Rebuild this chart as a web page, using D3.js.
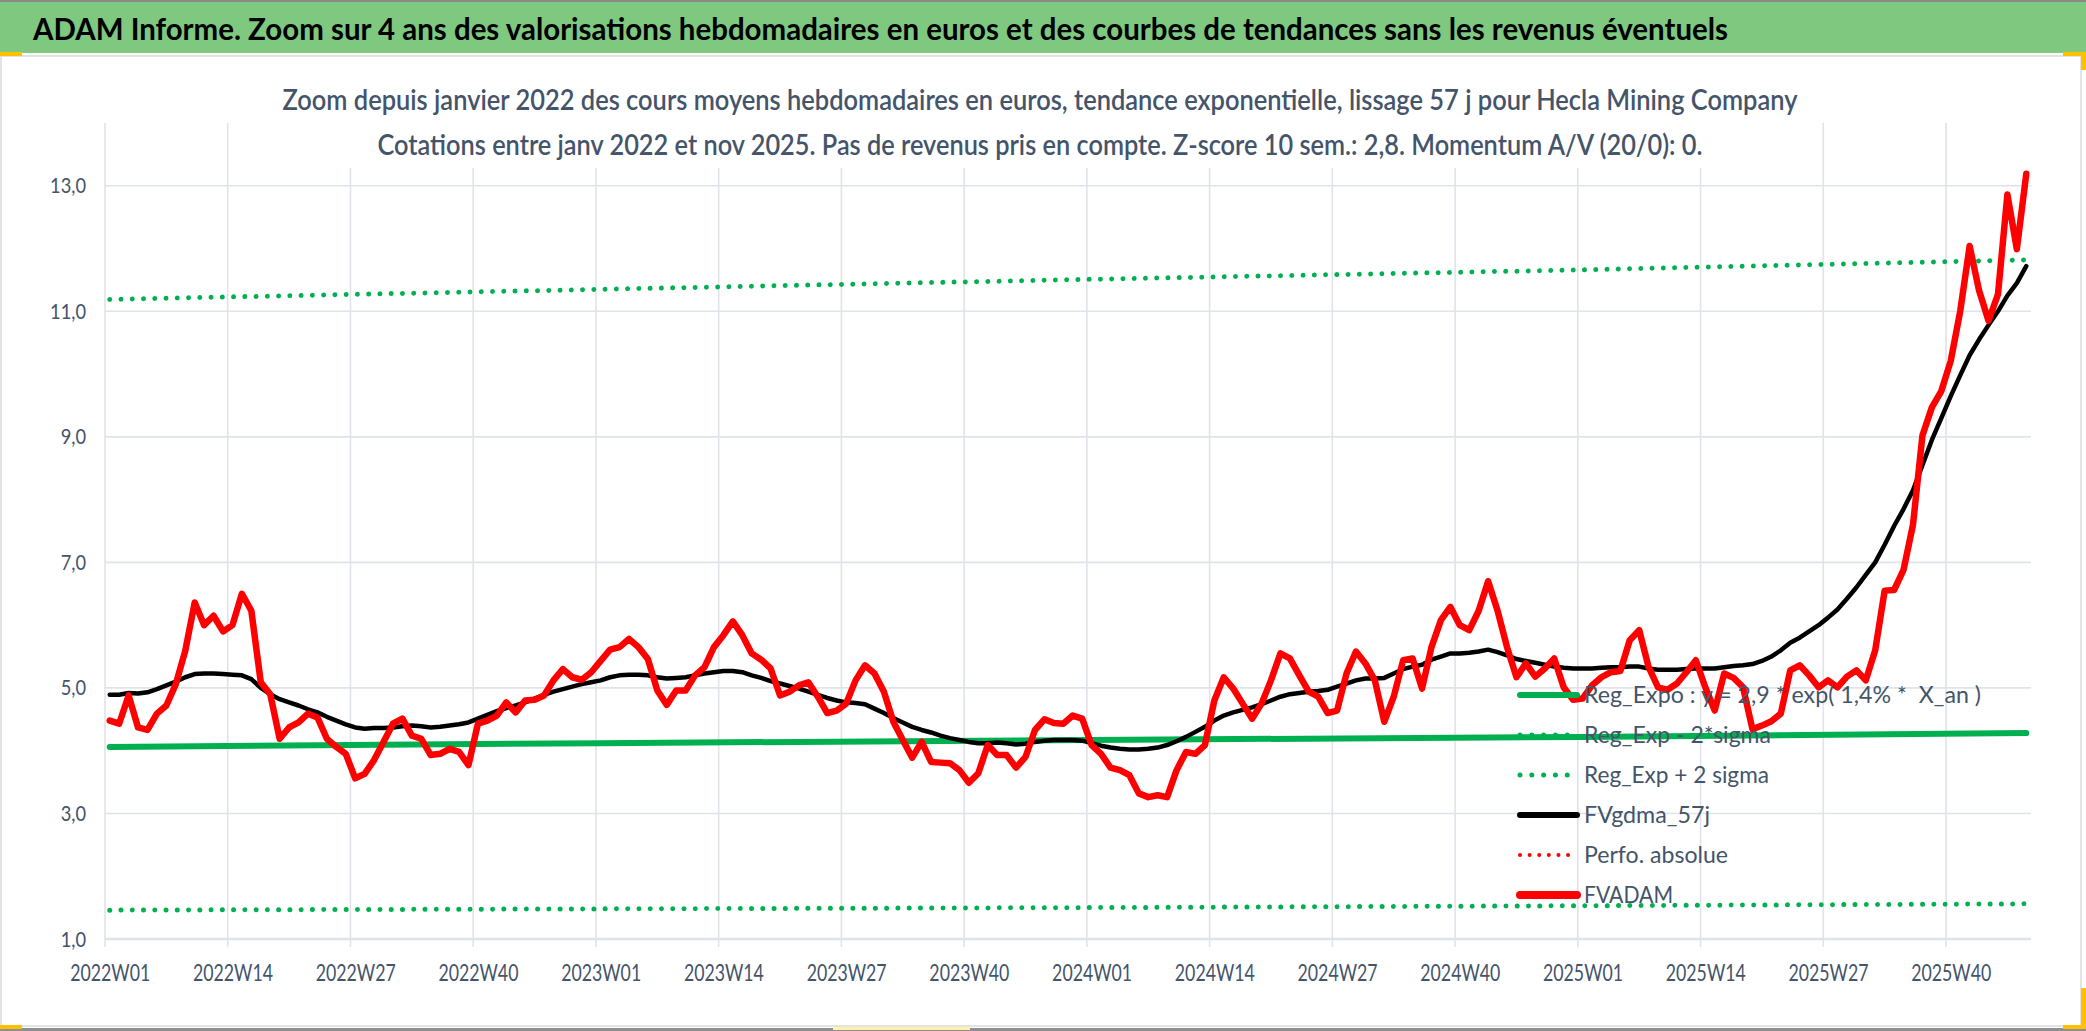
<!DOCTYPE html>
<html>
<head>
<meta charset="utf-8">
<script src="https://cdn.jsdelivr.net/npm/d3@7"></script>
<style>
  body { margin: 0; background: #fff; }
  text { font-family: Lato, "Open Sans", sans-serif; }
</style>
</head>
<body>
<svg id="chart" width="2086" height="1031"></svg>
<script>
// Hecla Mining Company - ADAM zoom 2022-2025, weekly values in euros

// week categories (52 weeks per year on this chart)
const years = [2022, 2023, 2024, 2025];

// FVADAM : weekly average price (red)
const fvadam = [
  4.48, 4.43, 4.88, 4.37, 4.33, 4.59, 4.72, 5.06, 5.59, 6.36,
  6.0, 6.15, 5.9, 6.0, 6.5, 6.23, 5.09, 4.9, 4.19, 4.37,
  4.45, 4.59, 4.53, 4.19, 4.06, 3.95, 3.56, 3.63, 3.85, 4.14,
  4.43, 4.51, 4.24, 4.19, 3.93, 3.95, 4.03, 3.98, 3.77, 4.43,
  4.48, 4.56, 4.77, 4.61, 4.8, 4.81, 4.88, 5.12, 5.3, 5.17,
  5.13, 5.25, 5.43, 5.61, 5.65, 5.78, 5.65, 5.46, 4.96, 4.73,
  4.96, 4.96, 5.2, 5.33, 5.65, 5.84, 6.06, 5.84, 5.55, 5.45,
  5.31, 4.88, 4.94, 5.04, 5.09, 4.86, 4.6, 4.64, 4.75, 5.12,
  5.36, 5.23, 4.94, 4.46, 4.17, 3.89, 4.14, 3.82, 3.81, 3.8,
  3.69, 3.49, 3.64, 4.09, 3.93, 3.93, 3.73, 3.9, 4.33, 4.5,
  4.44, 4.43, 4.56, 4.51, 4.09, 3.95, 3.73, 3.69, 3.61, 3.32,
  3.26, 3.29, 3.26, 3.69, 3.98, 3.95, 4.09, 4.8, 5.17, 4.99,
  4.75, 4.51, 4.75, 5.12, 5.55, 5.47, 5.2, 4.94, 4.86, 4.6,
  4.64, 5.23, 5.58, 5.39, 5.12, 4.46, 4.86, 5.44, 5.47, 4.99,
  5.65, 6.08, 6.29, 6.0, 5.92, 6.23, 6.7, 6.23, 5.65, 5.17,
  5.39, 5.18, 5.31, 5.47, 5.01, 4.81, 4.83, 5.04, 5.17, 5.25,
  5.27, 5.76, 5.92, 5.33, 5.01, 4.97, 5.07, 5.25, 5.44, 5.01,
  4.64, 5.23, 5.16, 5.01, 4.34, 4.4, 4.47, 4.59, 5.28, 5.36,
  5.2, 5.01, 5.12, 5.01, 5.18, 5.28, 5.12, 5.6, 6.55, 6.56,
  6.88, 7.6, 9.02, 9.47, 9.73, 10.21, 11.0, 12.04, 11.33, 10.85,
  11.27, 12.86, 11.99, 13.19
];

// FVgdma_57j : 57 day smoothing (black)
const fvgdma57 = [
  4.89, 4.89, 4.92, 4.91, 4.93, 4.98, 5.04, 5.1, 5.17, 5.22,
  5.23, 5.23, 5.22, 5.21, 5.2, 5.14, 5.0, 4.9, 4.82, 4.77,
  4.72, 4.66, 4.61, 4.54, 4.48, 4.42, 4.37, 4.35, 4.36, 4.36,
  4.37, 4.39, 4.4, 4.39, 4.37, 4.38, 4.4, 4.42, 4.45, 4.51,
  4.57, 4.63, 4.68, 4.72, 4.77, 4.83, 4.89, 4.94, 4.98, 5.02,
  5.06, 5.09, 5.12, 5.17, 5.2, 5.21, 5.21, 5.2, 5.17, 5.15,
  5.16, 5.17, 5.2, 5.23, 5.25, 5.27, 5.27, 5.25, 5.2, 5.16,
  5.11, 5.07, 5.03, 4.99, 4.94, 4.89, 4.84, 4.8, 4.77, 4.76,
  4.74, 4.67, 4.6, 4.52, 4.45, 4.38, 4.33, 4.29, 4.24, 4.2,
  4.17, 4.14, 4.12, 4.12, 4.13, 4.12, 4.1, 4.11, 4.14, 4.16,
  4.17, 4.17, 4.17, 4.16, 4.12, 4.08, 4.05, 4.03, 4.02, 4.02,
  4.03, 4.05, 4.09, 4.15, 4.22, 4.3, 4.38, 4.48, 4.56, 4.61,
  4.65, 4.69, 4.74, 4.8, 4.86, 4.9, 4.92, 4.94, 4.95, 4.97,
  5.02, 5.07, 5.12, 5.15, 5.15, 5.16, 5.23, 5.3, 5.34, 5.37,
  5.45, 5.5, 5.55, 5.55, 5.56, 5.58, 5.61, 5.57, 5.52, 5.46,
  5.43, 5.4, 5.37, 5.34, 5.32, 5.31, 5.31, 5.31, 5.32, 5.33,
  5.33, 5.34, 5.34, 5.31, 5.29, 5.29, 5.29, 5.3, 5.31, 5.31,
  5.31, 5.33, 5.35, 5.36, 5.38, 5.43, 5.5, 5.6, 5.72, 5.8,
  5.9, 6.0, 6.12, 6.25, 6.42, 6.6, 6.8, 7.0, 7.28, 7.58,
  7.85, 8.15, 8.55, 8.95, 9.3, 9.65, 9.98, 10.3, 10.55, 10.78,
  11.0, 11.25, 11.45, 11.72
];

// exponential trend and +/- 2 sigma bands, read at a few weeks
const trendIdx = [0, 52, 104, 156, 203];
const regExpo = [4.06, 4.12, 4.17, 4.22, 4.28];
const regExpPlus = [11.19, 11.35, 11.51, 11.66, 11.82];
const regExpMinus = [1.46, 1.48, 1.50, 1.53, 1.56];

// axis ticks
const yTicks = [1, 3, 5, 7, 9, 11, 13];
const labelStep = 13;

// texts
const mainTitle = "ADAM Informe. Zoom sur 4 ans des valorisations hebdomadaires en euros et des courbes de tendances sans les revenus éventuels";
const subTitle1 = "Zoom depuis janvier 2022 des cours moyens hebdomadaires en euros, tendance exponentielle, lissage 57 j pour Hecla Mining Company";
const subTitle2 = "Cotations entre janv 2022 et nov 2025. Pas de revenus pris en compte. Z-score 10 sem.: 2,8. Momentum A/V (20/0): 0.";
const legendLabels = [
  "Reg_Expo : y = 2,9 * exp( 1,4% *  X_an )",
  "Reg_Exp - 2*sigma",
  "Reg_Exp + 2 sigma",
  "FVgdma_57j",
  "Perfo. absolue",
  "FVADAM"
];

// ---------------------------------------------------------------
const categories = years.flatMap(yr => d3.range(1, 53).map(w => `${yr}W${String(w).padStart(2, "0")}`))
  .slice(0, fvadam.length);

const W = 2086, H = 1031;
const plot = { left: 105, right: 2031, top: 123, bottom: 939 };
const textColor = "#44546a";
const gridColor = "#dfe3ea";
const green = "#00b050";

const svg = d3.select("#chart");

const x = d3.scaleLinear().domain([-0.5, fvadam.length - 0.5]).range([plot.left, plot.right]);
const y = d3.scaleLinear().domain([1, 14]).range([plot.bottom, plot.top]);

// squeeze a text to the width it has in the excel picture
function fit(sel, width) {
  sel.attr("textLength", width).attr("lengthAdjust", "spacingAndGlyphs");
}

// frame: green banner, chart area, small selection handles
function drawFrame() {
  svg.append("rect").attr("width", W).attr("height", H).attr("fill", "#fff");
  svg.append("rect")
    .attr("x", 1).attr("y", 56).attr("width", 2080).attr("height", 970)
    .attr("fill", "#fff").attr("stroke", "#dadada").attr("stroke-width", 1.5);
  svg.append("rect").attr("x", 0).attr("y", 0).attr("width", W).attr("height", 53).attr("fill", "#7fc87f");
  svg.append("rect").attr("x", 0).attr("y", 0).attr("width", W).attr("height", 2).attr("fill", "#8a8a8a");
  svg.append("rect").attr("x", 0).attr("y", 1028).attr("width", W).attr("height", 3).attr("fill", "#8f8f8f");

  const handles = [
    [0, 52, 22, 4], [2063, 52, 23, 4], [2081, 52, 5, 18],
    [2081, 988, 5, 40], [2063, 1025, 23, 4], [0, 1025, 22, 4]
  ];
  svg.append("g").selectAll("rect").data(handles).join("rect")
    .attr("x", d => d[0]).attr("y", d => d[1])
    .attr("width", d => d[2]).attr("height", d => d[3])
    .attr("fill", "#ffc000");
  svg.append("rect").attr("x", 833).attr("y", 1027).attr("width", 137).attr("height", 3).attr("fill", "#fff2a8");
}

// gridlines
function drawGrid() {
  const g = svg.append("g");
  g.selectAll(".hgrid").data(yTicks).join("line")
    .attr("x1", plot.left).attr("x2", plot.right)
    .attr("y1", d => y(d)).attr("y2", d => y(d))
    .attr("stroke", gridColor)
    .attr("stroke-width", d => d === 1 ? 2.6 : 1.6);

  const vIdx = d3.range(0, fvadam.length, labelStep).map(i => i - 0.5);
  g.selectAll(".vgrid").data(vIdx).join("line")
    .attr("x1", d => x(d)).attr("x2", d => x(d))
    .attr("y1", plot.top).attr("y2", plot.bottom + 8)
    .attr("stroke", gridColor).attr("stroke-width", 1.6);

  // the chart title box hides the top of the gridlines
  svg.append("rect").attr("x", 280).attr("y", 118).attr("width", 1522).attr("height", 50).attr("fill", "#fff");
}

// axes labels
function drawAxes() {
  const xAxis = d3.axisBottom(x)
    .tickValues(d3.range(0, fvadam.length, labelStep))
    .tickFormat(i => categories[i])
    .tickSize(0).tickPadding(26);
  const gx = svg.append("g").attr("transform", `translate(0,${plot.bottom})`).call(xAxis);
  gx.select(".domain").remove();
  gx.selectAll("text")
    .attr("fill", textColor).attr("font-size", 23).attr("font-family", "Lato, 'Open Sans', sans-serif")
    .call(fit, 80);

  const yAxis = d3.axisLeft(y)
    .tickValues(yTicks)
    .tickFormat(d => d3.format(".1f")(d).replace(".", ","))
    .tickSize(0).tickPadding(19);
  const gy = svg.append("g").attr("transform", `translate(${plot.left},0)`).call(yAxis);
  gy.select(".domain").remove();
  gy.selectAll("text")
    .attr("fill", textColor).attr("font-size", 22).attr("font-family", "Lato, 'Open Sans', sans-serif")
    .each(function () {
      const w = this.getComputedTextLength();
      d3.select(this).call(fit, w * 0.83);
    });
}

// series
function drawSeries() {
  const trendLine = vals => d3.line()
    .x((d, k) => x(trendIdx[k]))
    .y(d => y(d))(vals);

  svg.append("path").attr("d", trendLine(regExpo))
    .attr("fill", "none").attr("stroke", green).attr("stroke-width", 6)
    .attr("stroke-linecap", "round");

  [regExpMinus, regExpPlus].forEach(vals => {
    svg.append("path").attr("d", trendLine(vals))
      .attr("fill", "none").attr("stroke", green).attr("stroke-width", 5)
      .attr("stroke-linecap", "round").attr("stroke-dasharray", "0.01 11.25");
  });

  const weekly = d3.line().x((d, i) => x(i)).y(d => y(d));

  svg.append("path").attr("d", weekly(fvgdma57))
    .attr("fill", "none").attr("stroke", "#000").attr("stroke-width", 4.5)
    .attr("stroke-linejoin", "round").attr("stroke-linecap", "round");

  svg.append("path").attr("d", weekly(fvadam))
    .attr("fill", "none").attr("stroke", "#ff0000").attr("stroke-width", 6.5)
    .attr("stroke-linejoin", "round").attr("stroke-linecap", "round");
}

// legend, drawn over the plot without background
function drawLegend() {
  const symbols = [
    { color: green, width: 6, dash: null },
    { color: green, width: 5, dash: "0.01 11.8" },
    { color: green, width: 5, dash: "0.01 11.8" },
    { color: "#000", width: 6, dash: null },
    { color: "#ff0000", width: 4, dash: "0.01 9.6" },
    { color: "#ff0000", width: 8, dash: null }
  ];
  const textWidth = [397, 187, 185, 126, 144, 89];
  const rowY = k => 695 + k * 40;

  const g = svg.append("g");
  legendLabels.forEach((label, k) => {
    const s = symbols[k];
    g.append("line")
      .attr("x1", 1520).attr("x2", 1577)
      .attr("y1", rowY(k)).attr("y2", rowY(k))
      .attr("stroke", s.color).attr("stroke-width", s.width)
      .attr("stroke-linecap", "round")
      .attr("stroke-dasharray", s.dash);
    g.append("text")
      .attr("x", 1584).attr("y", rowY(k)).attr("dy", "0.35em")
      .attr("font-size", 23).attr("fill", textColor)
      .style("white-space", "pre")
      .text(label)
      .call(fit, textWidth[k]);
  });
}

// titles
function drawTitles() {
  svg.append("text")
    .attr("x", 33).attr("y", 40)
    .attr("font-size", 30).attr("font-weight", 700).attr("fill", "#000")
    .text(mainTitle)
    .call(fit, 1695);

  svg.append("text")
    .attr("x", 1040).attr("y", 110).attr("text-anchor", "middle")
    .attr("font-size", 28.5).attr("font-weight", 600).attr("fill", textColor)
    .text(subTitle1)
    .call(fit, 1515);

  svg.append("text")
    .attr("x", 1040).attr("y", 155).attr("text-anchor", "middle")
    .attr("font-size", 28.5).attr("font-weight", 600).attr("fill", textColor)
    .text(subTitle2)
    .call(fit, 1325);
}

drawFrame();
drawGrid();
drawSeries();
drawLegend();
drawAxes();
drawTitles();
</script>
</body>
</html>
